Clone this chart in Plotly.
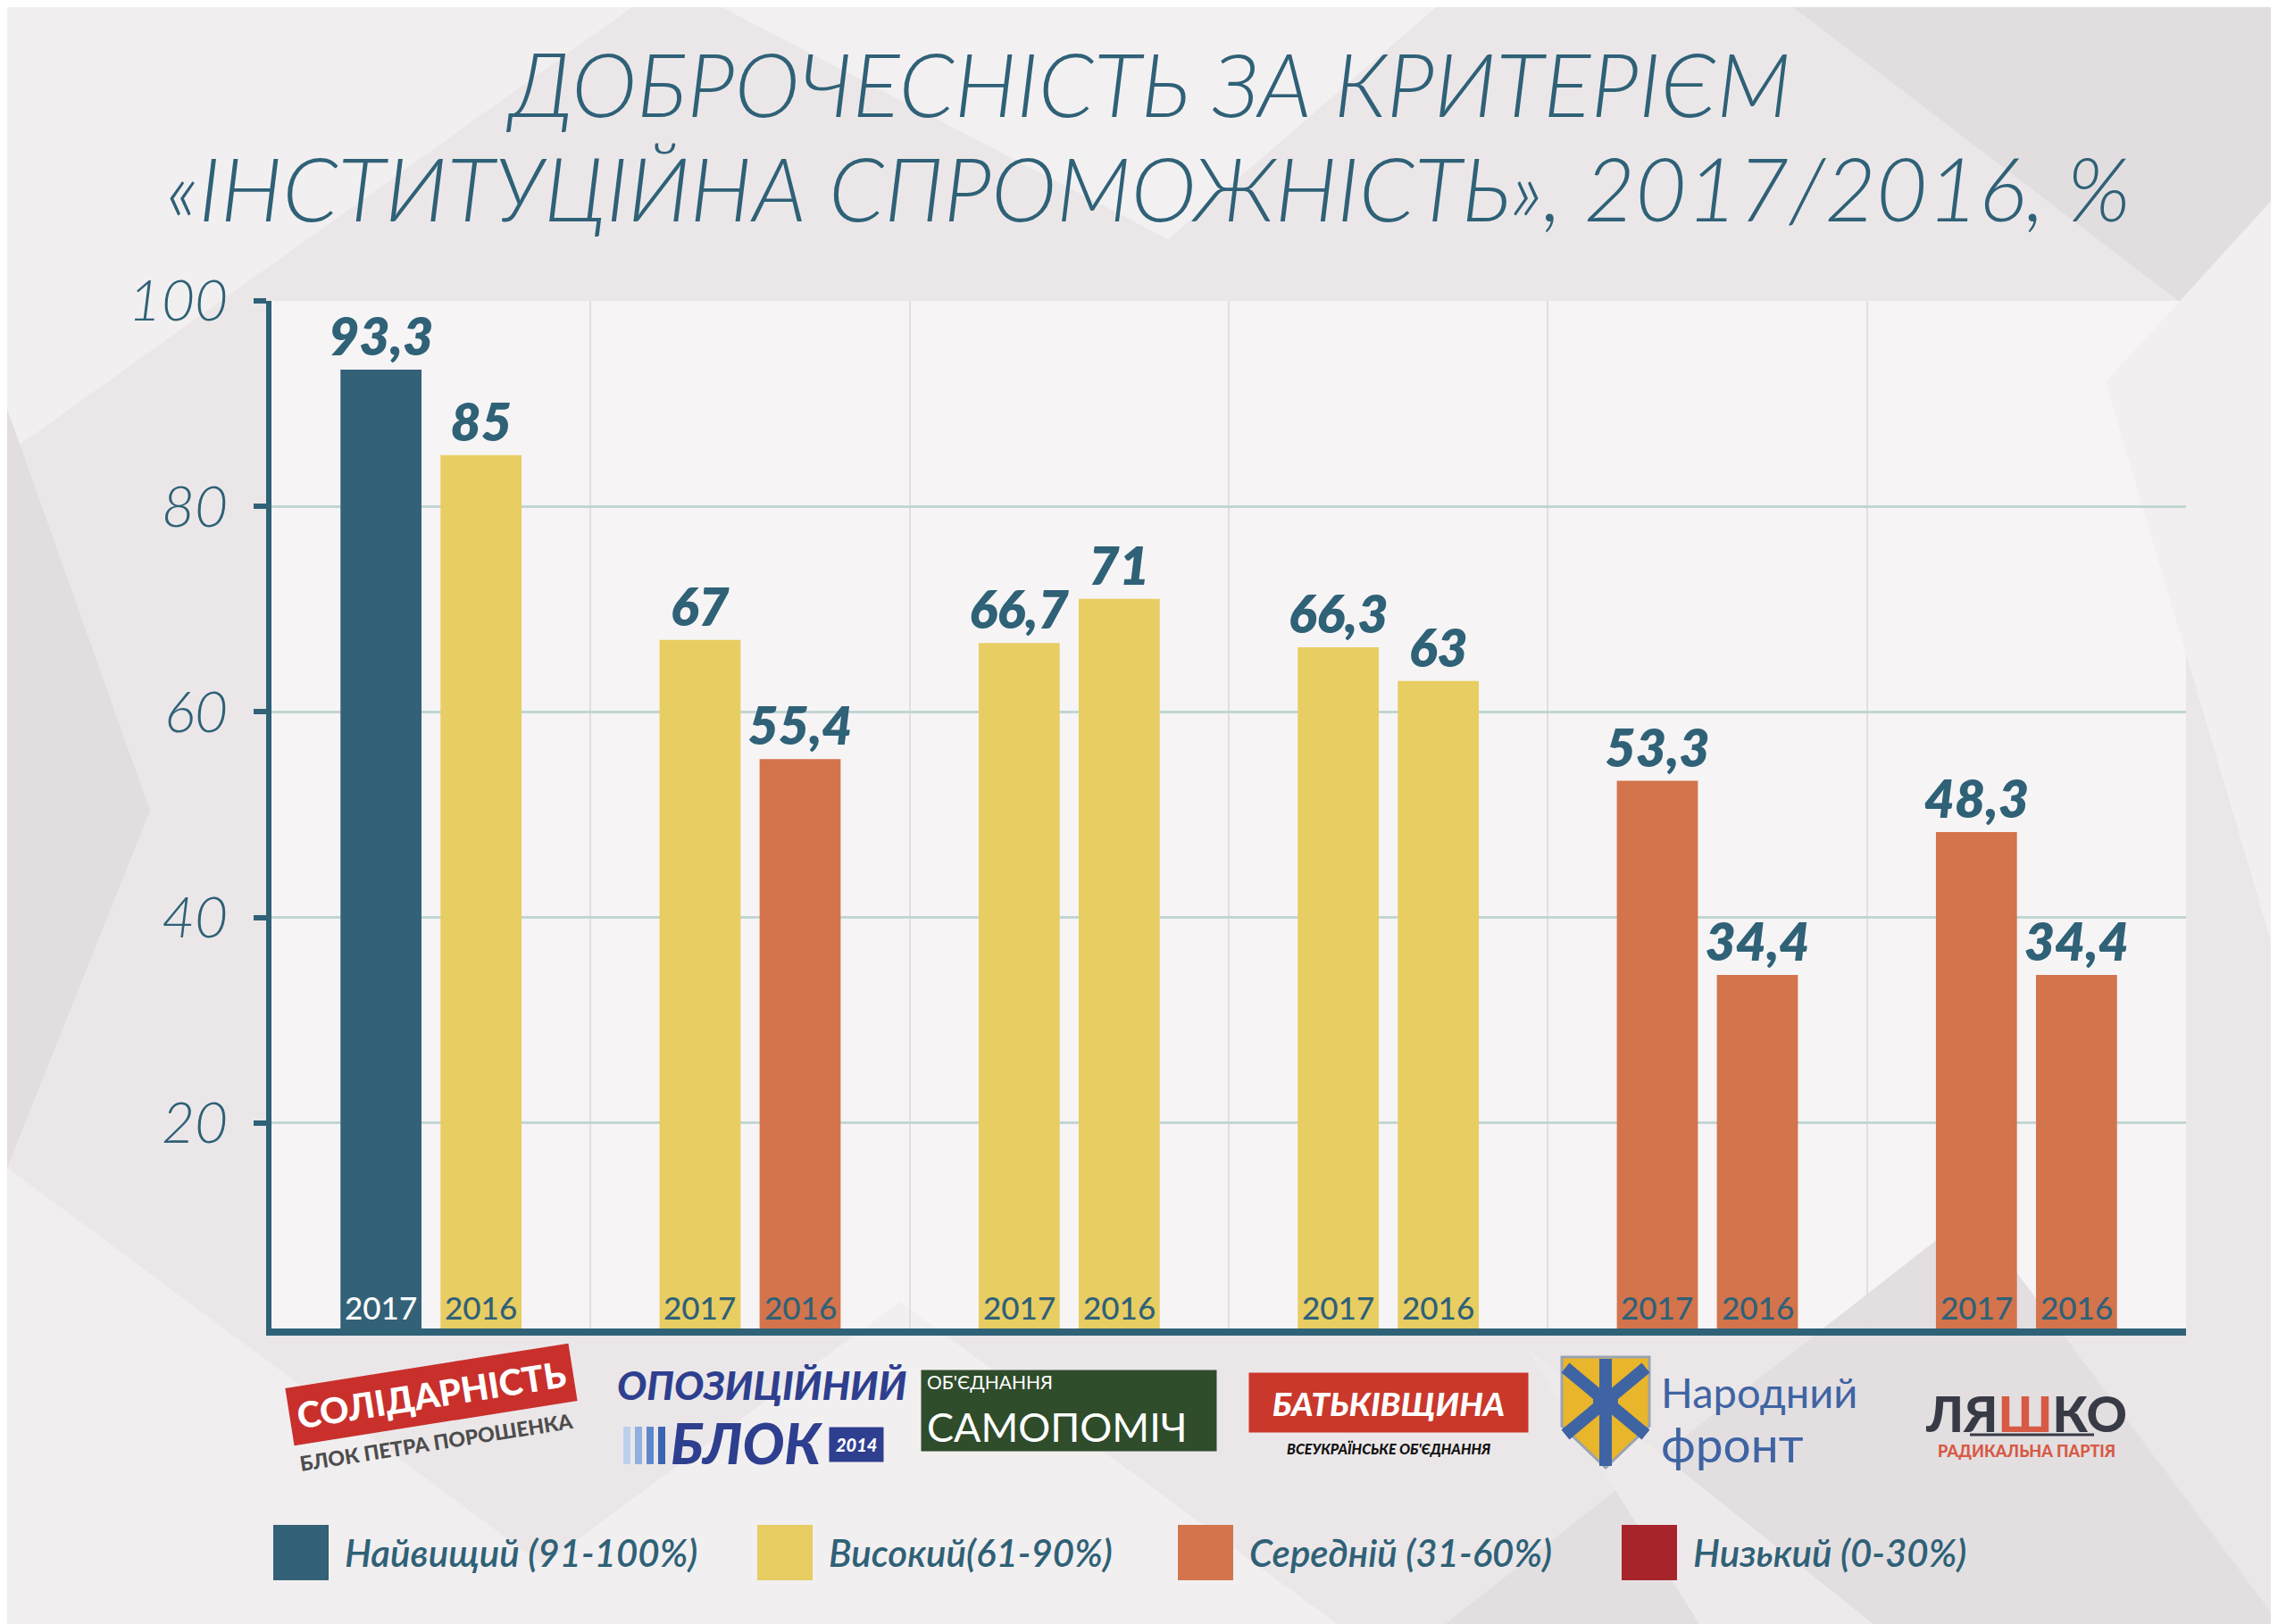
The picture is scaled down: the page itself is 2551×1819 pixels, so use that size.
import plotly.graph_objects as go

# ---------------- data ----------------
parties = ["Солідарність", "Опозиційний блок", "Самопоміч",
           "Батьківщина", "Народний фронт", "Радикальна партія"]
values_2017 = [93.3, 67, 66.7, 66.3, 53.3, 48.3]
values_2016 = [85, 55.4, 71, 63, 34.4, 34.4]
year_labels = ["2017", "2016"]
level_names = ["Найвищий (91-100%)", "Високий(61-90%)", "Середній (31-60%)", "Низький (0-30%)"]
level_mins = [91, 61, 31, 0]
y_ticks = [20, 40, 60, 80, 100]
title_lines = ["ДОБРОЧЕСНІСТЬ ЗА КРИТЕРІЄМ",
               "«ІНСТИТУЦІЙНА СПРОМОЖНІСТЬ», 2017/2016, %"]

# ---------------- style ----------------
TEAL = "#2f6177"
LEVEL_COLORS = ["#336178", "#e8cd62", "#d3744c", "#a8242b"]
W, H = 2551, 1819
L, R, T, B = 296, 111, 329, 339
PW, PH = W - L - R, H - T - B
FONT = "Lato"
LOGO_DY = -11


def px(X, Y):
    return (X - L) / PW, (H - B - Y) / PH


def level_color(v):
    for mn, c in zip(level_mins, LEVEL_COLORS):
        if v >= mn:
            return c
    return LEVEL_COLORS[-1]


def fmt(v):
    return f"{v:g}".replace(".", ",")


bargap = 0.373
groupgap = 0.19

fig = go.Figure()
for yr, vals in zip(year_labels, [values_2017, values_2016]):
    fig.add_bar(
        x=parties, y=vals, name=yr, showlegend=False,
        marker=dict(color=[level_color(v) for v in vals], line=dict(width=0)),
        text=[fmt(v) for v in vals], textposition="outside",
        constraintext="none", cliponaxis=False,
        textfont=dict(family=FONT, size=59, color=TEAL, weight=800, style="italic"),
        hoverinfo="skip",
    )

slot = (1 - bargap) / 2
annotations = []
shapes = []

# year labels inside bars
for j, (yr, vals) in enumerate(zip(year_labels, [values_2017, values_2016])):
    off = -slot / 2 if j == 0 else slot / 2
    for i, v in enumerate(vals):
        col = "white" if level_color(v) == LEVEL_COLORS[0] else TEAL
        annotations.append(dict(
            x=i + off, y=0, xref="x", yref="y", text=yr, showarrow=False,
            yanchor="bottom", yshift=1,
            font=dict(family=FONT, size=35, color=col, weight=500)))

# title
for line, yc in zip(title_lines, [84, 201]):
    xp, yp = px(1278, yc)
    annotations.append(dict(
        x=xp, y=yp, xref="paper", yref="paper", text=line, showarrow=False,
        xanchor="center", yanchor="middle",
        font=dict(family=FONT, size=99, color=TEAL, weight=300, style="italic")))

# legend
legend_x = [298, 840, 1311, 1808]
for name, col, lx in zip(level_names, LEVEL_COLORS, legend_x):
    x0, y0 = px(lx, 1762)
    x1, y1 = px(lx + 62, 1700)
    shapes.append(dict(type="rect", xref="paper", yref="paper", x0=x0, x1=x1, y0=y0, y1=y1,
                       fillcolor=col, line=dict(width=0), layer="above"))
    tx, ty = px(lx + 78, 1731)
    annotations.append(dict(
        x=tx, y=ty, xref="paper", yref="paper", text=name, showarrow=False,
        xanchor="left", yanchor="middle",
        font=dict(family=FONT, size=42, color=TEAL, weight=600, style="italic")))


def logo(party, text, Y, size, color, xshift=0, weight=900, style="normal",
         bg=None, angle=0, width=None, height=None, align="center", xanchor="center", pad=4):
    _, yp = px(0, Y + LOGO_DY)
    d = dict(x=party, xref="x", y=yp, yref="paper", text=text, showarrow=False,
             xanchor=xanchor, yanchor="middle", xshift=xshift, textangle=angle,
             align=align, borderpad=pad,
             font=dict(family=FONT, size=size, color=color, weight=weight, style=style))
    if bg:
        d["bgcolor"] = bg
    if width:
        d["width"] = width
    if height:
        d["height"] = height
    annotations.append(d)


def lp(X, Y):
    return px(X, Y + LOGO_DY)


def rect(x0p, y0p, x1p, y1p, color):
    a0, b0 = px(x0p, y1p)
    a1, b1 = px(x1p, y0p)
    shapes.append(dict(type="rect", xref="paper", yref="paper", x0=a0, x1=a1, y0=b0, y1=b1,
                       fillcolor=color, line=dict(width=0), layer="above"))


# Солідарність
logo(parties[0], "СОЛІДАРНІСТЬ", 1565, 40, "white", bg="#c9302c", angle=-9, pad=8)
logo(parties[0], "БЛОК ПЕТРА ПОРОШЕНКА", 1618, 23, "#4d4d4d", xshift=6, angle=-9)
# Опозиційний блок
logo(parties[1], "ОПОЗИЦІЙНИЙ", 1554, 44, "#2e3f8f", xshift=13, style="italic")
logo(parties[1], "БЛОК", 1619, 62, "#2e3f8f", xshift=-4, style="italic")
logo(parties[1], "2014", 1621, 20, "white", xshift=88, xanchor="left", bg="#2e3f8f",
     style="italic", pad=7)
for k, c in enumerate(["#bcd0ee", "#8fb0e0", "#5e86cc", "#3d63b3"]):
    rect(690 + k * 13, 1590, 690 + k * 13 + 8, 1632, c)
# Самопоміч
logo(parties[2], "<span style='font-size:21px'>ОБ'ЄДНАННЯ</span><br>САМОПОМІЧ", 1583, 45,
     "white", bg="#2f4c2b", width=318, height=78, align="left", weight=400, pad=6)
# Батьківщина
logo(parties[3], "БАТЬКІВЩИНА", 1574, 37, "white", bg="#c9382b", width=304, height=58,
     style="italic")
logo(parties[3], "ВСЕУКРАЇНСЬКЕ ОБ'ЄДНАННЯ", 1625, 16, "#111111", style="italic")
# Народний фронт
logo(parties[4], "Народний", 1562, 47, "#3f64a3", xshift=-57, weight=400, xanchor="left")
logo(parties[4], "фронт", 1620, 55, "#3f64a3", xshift=-57, weight=400, xanchor="left")
sx = [1741, 1839, 1839, 1790, 1741]
sy = [1523, 1523, 1600, 1647, 1600]
pts = [lp(a, b) for a, b in zip(sx, sy)]
shapes.append(dict(type="path", xref="paper", yref="paper",
                   path="M " + " L ".join(f"{a},{b}" for a, b in pts) + " Z",
                   fillcolor="#e9b52a", line=dict(color="#9aa3b0", width=3)))
for (a0, b0, a1, b1) in [(1790, 1525, 1790, 1645), (1745, 1535, 1835, 1610), (1835, 1535, 1745, 1610)]:
    p0, p1 = lp(a0, b0), lp(a1, b1)
    shapes.append(dict(type="line", xref="paper", yref="paper", x0=p0[0], y0=p0[1],
                       x1=p1[0], y1=p1[1], line=dict(color="#3f64a3", width=14)))
c0, c1 = lp(1776, 1586), lp(1804, 1558)
shapes.append(dict(type="circle", xref="paper", yref="paper", x0=c0[0], y0=c0[1], x1=c1[0],
                   y1=c1[1], fillcolor="#3f64a3", line=dict(width=0)))
# Радикальна партія
logo(parties[5], "ЛЯ<span style='color:#d65a44'>Ш</span>КО", 1585, 56, "#383b46")
logo(parties[5], "РАДИКАЛЬНА ПАРТІЯ", 1628, 18, "#d65a44")
p0, p1 = lp(2198, 1610), lp(2337, 1610)
shapes.append(dict(type="line", xref="paper", yref="paper", x0=p0[0], y0=p0[1], x1=p1[0],
                   y1=p1[1], line=dict(color="#383b46", width=3)))

# background polygons
tris = [
    ([0, 700, 0], [0, 0, 500], "#f2eff0"),
    ([0, 160, 0], [450, 900, 1300], "#e2dee0"),
    ([0, 700, 0], [1300, 1819, 1819], "#f1eef0"),
    ([2000, 2551, 2551], [0, 0, 420], "#e2dee0"),
    ([2350, 2551, 2551], [420, 200, 1100], "#f2eff0"),
    ([1600, 2200, 2551], [1819, 1350, 1819], "#e3dfe1"),
    ([500, 1000, 1500], [1819, 1450, 1819], "#f2eff0"),
    ([800, 1600, 1300], [0, 0, 260], "#f3f0f2"),
    ([1700, 2100, 1900], [1500, 1819, 1819], "#eeeaec"),
]
for xs, ys, c in tris:
    pts = [px(a, b) for a, b in zip(xs, ys)]
    shapes.append(dict(type="path", xref="paper", yref="paper", layer="below",
                       path="M " + " L ".join(f"{a},{b}" for a, b in pts) + " Z",
                       fillcolor=c, line=dict(width=0)))

fig.update_layout(
    width=W, height=H,
    margin=dict(l=L, r=R, t=T, b=B, pad=0),
    paper_bgcolor="#ebe7e9",
    plot_bgcolor="rgba(248,246,247,0.85)",
    barmode="group", bargap=bargap, bargroupgap=groupgap,
    annotations=annotations, shapes=shapes,
    showlegend=False,
    xaxis=dict(showline=True, linewidth=8, linecolor=TEAL, showticklabels=False,
               tickson="boundaries", showgrid=True, gridcolor="#e2dedf", gridwidth=2,
               ticks="", fixedrange=True),
    yaxis=dict(range=[0, 100], tickvals=y_ticks, ticks="outside", ticklen=14, tickwidth=6,
               tickcolor=TEAL, showline=True, linewidth=6, linecolor=TEAL,
               gridcolor="#c3d5d5", gridwidth=3, zeroline=False, ticklabelstandoff=16,
               tickfont=dict(family=FONT, size=64, color=TEAL, weight=300, style="italic")),
)

fig.write_html("out.html")
